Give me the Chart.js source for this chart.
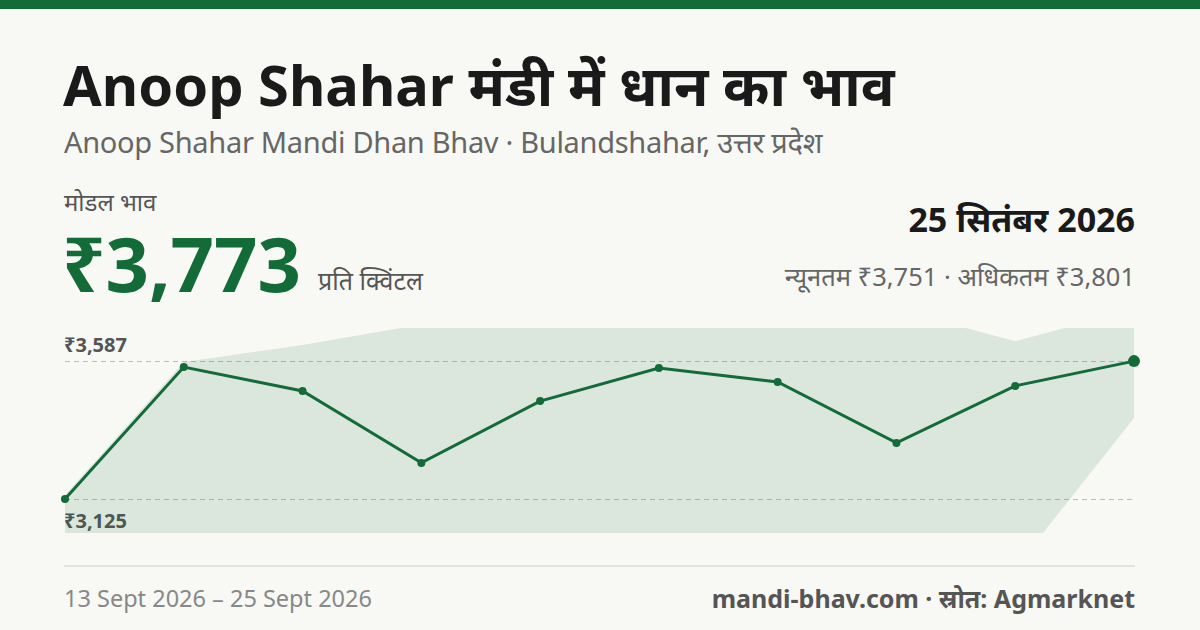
<!DOCTYPE html>
<html><head><meta charset="utf-8">
<script src="https://cdn.jsdelivr.net/npm/chart.js@4"></script>
<style>
body{margin:0;width:1200px;height:630px;background:#f8f8f4;font-family:"Noto Sans",sans-serif;position:relative;overflow:hidden}
.t{position:absolute;white-space:nowrap}
</style></head><body>
<div style="position:absolute;left:0;top:0;width:1200px;height:9px;background:#136b38"></div>
<div class="t" style="left:63px;top:46px;font-size:56px;font-weight:700;color:#1a1a1a;line-height:76px">Anoop Shahar मंडी में धान का भाव</div>
<div class="t" style="left:64px;top:122px;font-size:29px;color:#666;line-height:40px;letter-spacing:-0.3px">Anoop Shahar Mandi Dhan Bhav · Bulandshahar, उत्तर प्रदेश</div>
<div class="t" style="left:64px;top:185px;font-size:24px;color:#555;line-height:34px">मोडल भाव</div>
<div class="t" style="left:62px;top:215px;font-size:76px;font-weight:700;color:#136b38;line-height:96px">₹3,773</div>
<div class="t" style="left:318px;top:262px;font-size:25px;color:#555;line-height:36px">प्रति क्विंटल</div>
<div class="t" style="right:65px;top:195px;font-size:34px;font-weight:700;color:#1a1a1a;line-height:48px">25 सितंबर 2026</div>
<div class="t" style="right:65px;top:258px;font-size:25.5px;color:#666;line-height:36px">न्यूनतम ₹3,751 · अधिकतम ₹3,801</div>
<div class="t" style="left:64px;top:331px;font-size:20px;font-weight:700;color:#555;line-height:28px">₹3,587</div>
<div class="t" style="left:64px;top:507px;font-size:20px;font-weight:700;color:#555;line-height:28px">₹3,125</div>
<div style="position:absolute;left:64px;top:565px;width:1071px;height:2px;background:#e3e3de"></div>
<div class="t" style="left:64px;top:582px;font-size:23.5px;color:#888;line-height:32px">13 Sept 2026 – 25 Sept 2026</div>
<div class="t" style="right:65px;top:582px;font-size:25px;font-weight:700;color:#555;line-height:32px">mandi-bhav.com · स्रोत: Agmarknet</div>
<div style="position:absolute;left:59px;top:322px;width:1081px;height:217px"><canvas id="c"></canvas></div>
<script>
const labels=["13","14","15","16","17","18","19","20","21","25"];
const modal=[3125,3567,3487,3246,3453,3564,3517,3313,3504,3587];
const upper=[3138,3584,3641,3710,3760,3760,3760,3760,3654,3760];
const lower=[2900,2900,2900,2900,2900,2900,2900,2900,2894,3396];
const refTicks=[3587,3125];
const refLines={id:'ref',beforeDatasetsDraw(ch){const c=ch.ctx,y=ch.scales.y,a=ch.chartArea;c.save();c.strokeStyle='#bbb';c.lineWidth=1;c.setLineDash([5,4]);refTicks.forEach(v=>{const p=Math.round(y.getPixelForValue(v))+0.5;c.beginPath();c.moveTo(a.left,p);c.lineTo(a.right,p);c.stroke();});c.restore();}};
new Chart(document.getElementById('c'),{type:'line',data:{labels,datasets:[
{data:upper,borderWidth:0,pointRadius:0,fill:'+1',backgroundColor:'rgba(19,107,56,0.12)',clip:0},
{data:lower,borderWidth:0,pointRadius:0,fill:false,clip:0},
{data:modal,borderColor:'#136b38',borderWidth:3,backgroundColor:'#136b38',pointRadius:modal.map((v,i)=>i===modal.length-1?6:4),pointBorderWidth:0,fill:false,tension:0,clip:false}
]},options:{responsive:true,maintainAspectRatio:false,animation:false,layout:{padding:0},
plugins:{legend:{display:false},tooltip:{enabled:false}},
scales:{x:{display:false,offset:false},y:{display:false,min:3011,max:3698}}},plugins:[refLines]});
</script></body></html>
